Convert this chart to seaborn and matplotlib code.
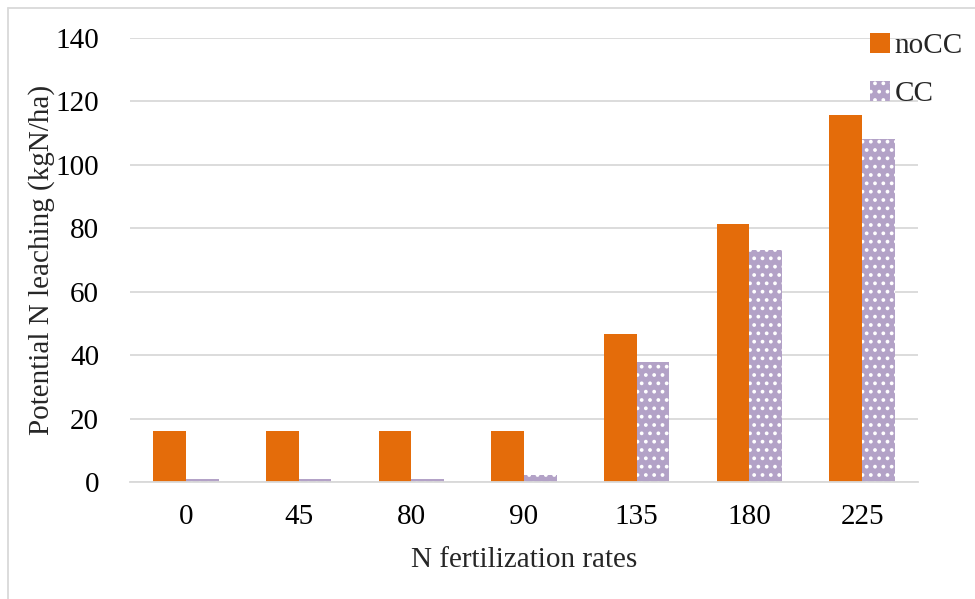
import matplotlib
matplotlib.use("Agg")
import matplotlib.pyplot as plt
import seaborn as sns
import pandas as pd
from matplotlib.patches import Patch
from matplotlib.lines import Line2D

rates = ["0", "45", "80", "90", "135", "180", "225"]
nocc = [16.1, 16.2, 16.2, 16.2, 46.7, 81.4, 115.7]
cc = [1.0, 1.0, 1.0, 2.2, 37.8, 73.2, 108.2]
series = ["noCC", "CC"]
yticks = [0, 20, 40, 60, 80, 100, 120, 140]

df = pd.DataFrame({
    "rate": rates * 2,
    "value": nocc + cc,
    "series": ["noCC"] * len(rates) + ["CC"] * len(rates),
})

sns.set_theme(style="white")
plt.rcParams["font.family"] = ["Liberation Serif", "DejaVu Serif"]
plt.rcParams["hatch.linewidth"] = 1.5

orange = "#E46C0A"
purple = "#B3A2C7"
fs = 21

fig = plt.figure(figsize=(9.75, 5.99), dpi=100)
ax = fig.add_axes([0.133, 0.195, 0.809, 0.742])

sns.barplot(data=df, x="rate", y="value", hue="series", order=rates,
            hue_order=series, palette=[orange, purple], width=0.58,
            ax=ax, legend=False, saturation=1)

for bar in ax.containers[1]:
    bar.set_hatch("..")
    bar.set_edgecolor("white")
    bar.set_linewidth(0)
for bar in ax.containers[0]:
    bar.set_linewidth(0)

ax.set_ylim(0, 140)
ax.set_yticks(yticks)
ax.set_xlim(-0.5, len(rates) - 0.5)
ax.yaxis.grid(True, color="#D9D9D9", linewidth=1.3)
ax.set_axisbelow(True)
for s in ["top", "right", "left"]:
    ax.spines[s].set_visible(False)
ax.spines["bottom"].set_color("#D9D9D9")
ax.spines["bottom"].set_linewidth(1.3)
ax.tick_params(axis="y", length=0, labelsize=fs, colors="black", pad=22)
ax.tick_params(axis="x", length=0, labelsize=fs, colors="black", pad=16)
ax.set_xlabel("N fertilization rates", fontsize=fs, labelpad=12)
ax.set_ylabel("Potential N leaching (kgN/ha)", fontsize=fs, labelpad=0)
ax.yaxis.set_label_coords(-0.095, 0.5)

handles = [Patch(facecolor=orange, edgecolor="none", label="noCC"),
           Patch(facecolor=purple, edgecolor="white", hatch="..", linewidth=0, label="CC")]
fig.legend(handles=handles, loc="upper left", bbox_to_anchor=(0.880, 0.965),
           frameon=False, fontsize=fs, handlelength=0.7, handleheight=0.7,
           handletextpad=0.15, labelspacing=0.75, borderaxespad=0)

# outer border
fig.add_artist(Line2D([8/975, 1], [1 - 8/599, 1 - 8/599], transform=fig.transFigure,
                      color="#D9D9D9", linewidth=1.3))
fig.add_artist(Line2D([8/975, 8/975], [0, 1 - 8/599], transform=fig.transFigure,
                      color="#D9D9D9", linewidth=1.3))

fig.savefig("out.png", dpi=100)
